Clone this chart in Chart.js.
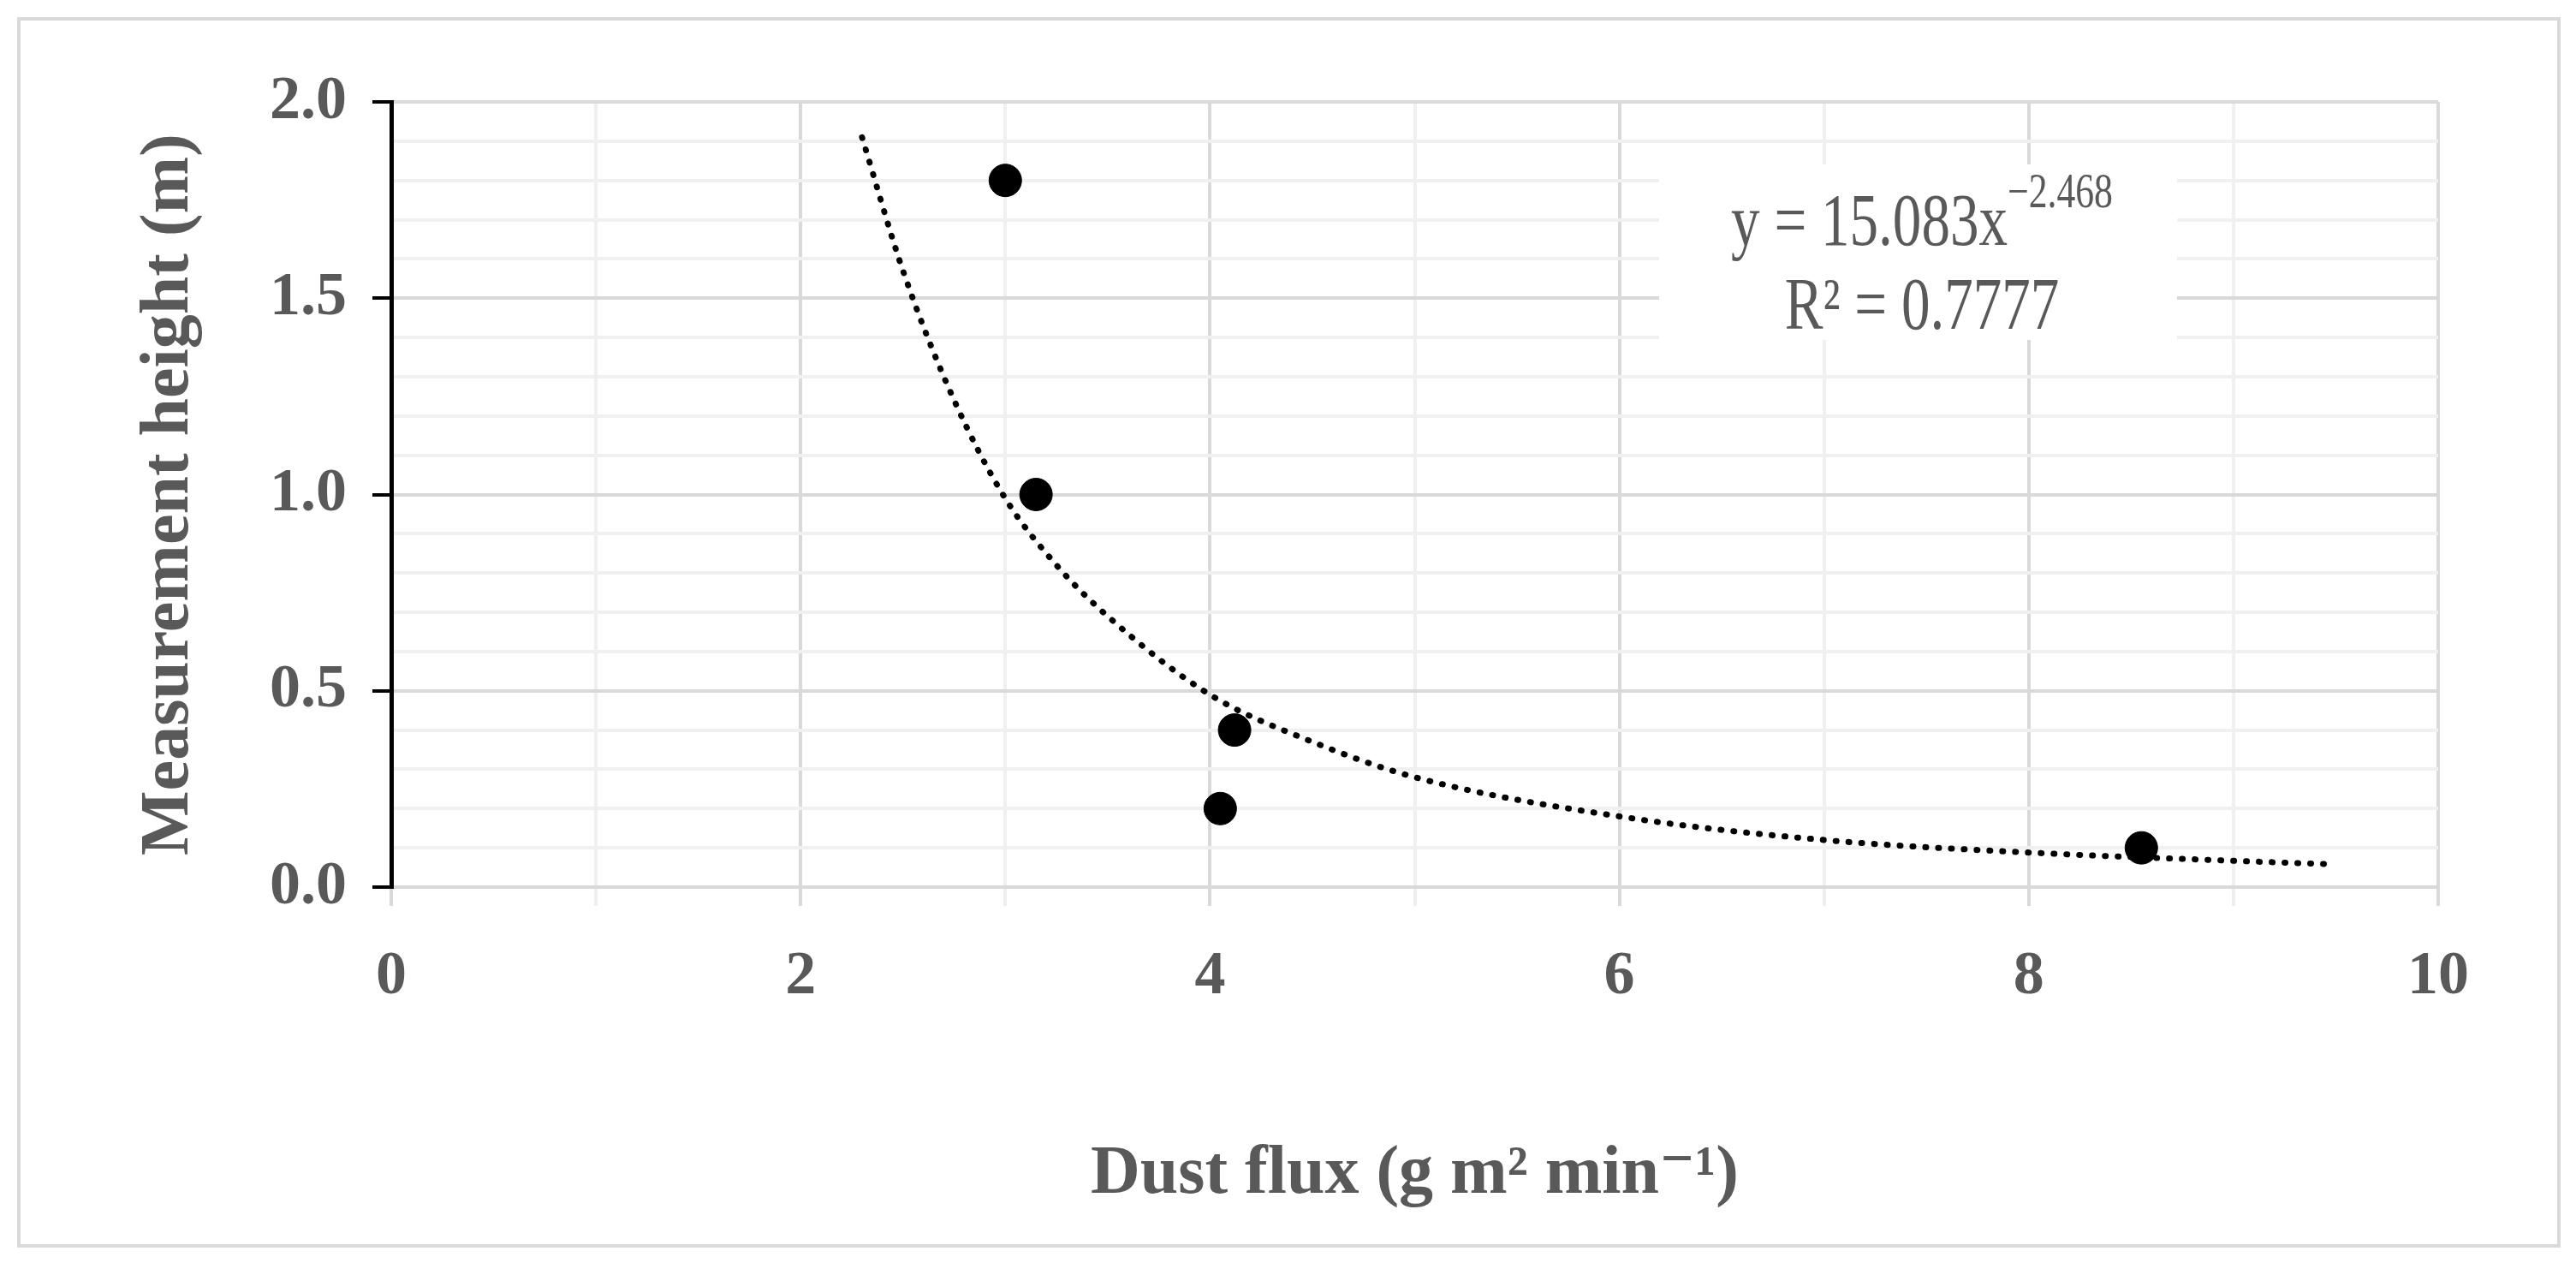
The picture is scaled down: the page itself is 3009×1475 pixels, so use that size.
<!DOCTYPE html>
<html>
<head>
<meta charset="utf-8">
<script src="https://cdn.jsdelivr.net/npm/chart.js@4/dist/chart.umd.min.js"></script>
<style>
  body { margin: 0; background: #fff; }
  #frame { position: absolute; left: 20px; top: 20px; width: 2963px; height: 1429px; border: 4px solid #d9d9d9; }
  #wrap { position: absolute; left: 0; top: 0; width: 3009px; height: 1475px; }
</style>
</head>
<body>
<div id="frame"></div>
<div id="wrap"><canvas id="myChart"></canvas></div>
<script>
// measured points
var fluxValues = [3.0, 3.15, 4.12, 4.05, 8.55];
var heightValues = [1.8, 1.0, 0.4, 0.2, 0.1];
// power trendline
var trendX = [2.3, 2.5, 2.75, 3.0, 3.25, 3.5, 4.0, 4.5, 5.0, 6.0, 7.0, 8.0, 9.0, 9.5];
var trendY = [1.91, 1.57, 1.24, 0.99, 0.82, 0.69, 0.49, 0.37, 0.28, 0.18, 0.12, 0.088, 0.067, 0.058];

var grey = '#595959';
var serif = '"Liberation Serif", "DejaVu Serif", serif';

// 式ラベル (condensed look via horizontal scaling)
var equationLabel = {
  id: 'equationLabel',
  afterDatasetsDraw: function (chart) {
    var c = chart.ctx;
    var sx = 0.78, cx = 2245;
    c.save();
    c.fillStyle = '#fff';
    c.fillRect(1938, 192, 605, 205);
    c.fillStyle = grey;
    c.textBaseline = 'alphabetic';
    c.translate(cx, 0);
    c.scale(sx, 1);
    c.font = '86px ' + serif;
    var main = 'y = 15.083x';
    var w1 = c.measureText(main).width;
    c.font = '56px ' + serif;
    var sup = '\u22122.468';
    var w2 = c.measureText(sup).width;
    var x = -(w1 + w2) / 2;
    c.font = '86px ' + serif;
    c.fillText(main, x, 286);
    c.font = '56px ' + serif;
    c.fillText(sup, x + w1, 242);
    c.font = '86px ' + serif;
    c.textAlign = 'center';
    c.fillText('R\u00b2 = 0.7777', 0, 384);
    c.restore();
  }
};

var ctx = document.getElementById('myChart');
new Chart(ctx, {
  type: 'scatter',
  data: {
    datasets: [{
      label: 'trend',
      type: 'line',
      data: trendX.map(function (x, i) { return { x: x, y: trendY[i] }; }),
      borderColor: '#000',
      borderWidth: 7,
      borderDash: [1, 14],
      borderCapStyle: 'round',
      pointRadius: 0,
      cubicInterpolationMode: 'monotone',
      fill: false
    }, {
      label: 'data',
      data: fluxValues.map(function (x, i) { return { x: x, y: heightValues[i] }; }),
      backgroundColor: '#000',
      borderColor: '#000',
      pointRadius: 19,
      pointHoverRadius: 19
    }]
  },
  options: {
    responsive: true,
    maintainAspectRatio: false,
    animation: false,
    events: [],
    layout: { padding: { left: 150, top: 119, right: 161, bottom: 0 } },
    plugins: { legend: { display: false }, tooltip: { enabled: false } },
    scales: {
      x: {
        min: 0, max: 10,
        afterFit: function (s) { s.height = 439; },
        ticks: {
          stepSize: 1, padding: 40, color: grey, autoSkip: false, maxRotation: 0,
          font: { family: serif, size: 72, weight: 'bold' },
          callback: function (v) { return v % 2 === 0 ? v : ''; }
        },
        grid: {
          lineWidth: 4,
          color: function (c) { return c.tick && c.tick.value % 2 === 0 ? '#d9d9d9' : '#f0f0f0'; },
          tickLength: 22,
          tickColor: function (c) { return c.tick && c.tick.value % 2 === 0 ? '#d9d9d9' : '#eeeeee'; }
        },
        border: { display: false },
        title: {
          display: true, text: 'Dust flux (g m\u00b2 min\u207b\u00b9)', color: grey,
          font: { family: serif, size: 80, weight: 'bold' },
          padding: { top: 0, bottom: 55 }
        }
      },
      y: {
        min: 0, max: 2,
        afterFit: function (s) { s.width = 307; },
        ticks: {
          stepSize: 0.1, padding: 30, color: grey, autoSkip: false,
          font: { family: serif, size: 72, weight: 'bold' },
          callback: function (v) { return Math.round(v * 10) % 5 === 0 ? v.toFixed(1) : ''; }
        },
        grid: {
          lineWidth: 4,
          color: function (c) { return c.tick && Math.round(c.tick.value * 10) % 5 === 0 ? '#d9d9d9' : '#f0f0f0'; },
          tickLength: 22,
          tickColor: function (c) { return c.tick && Math.round(c.tick.value * 10) % 5 === 0 ? '#000' : 'rgba(0,0,0,0)'; }
        },
        border: { display: true, color: '#000', width: 5 },
        title: {
          display: true, text: 'Measurement height (m)', color: grey,
          font: { family: serif, size: 80, weight: 'bold' },
          padding: { top: 0, bottom: 0 }
        }
      }
    }
  },
  plugins: [equationLabel]
});
</script>
</body>
</html>
